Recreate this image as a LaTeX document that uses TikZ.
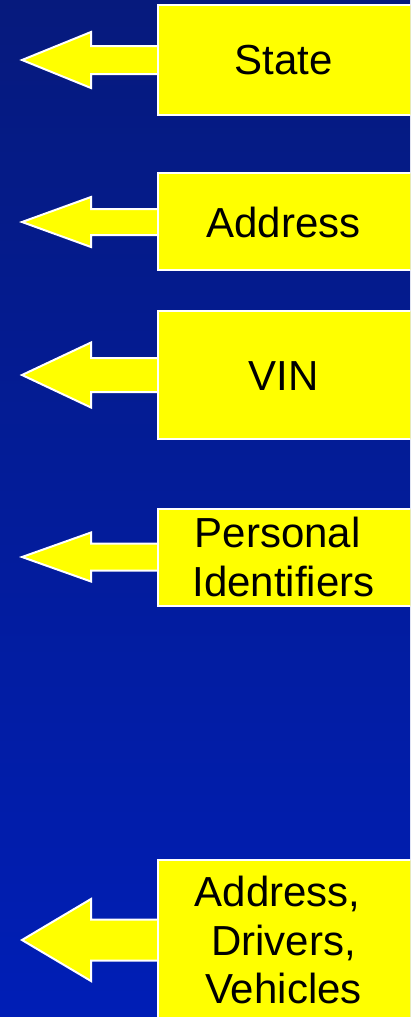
\documentclass[tikz,border=0pt]{standalone}
\usepackage{fontspec}
\setmainfont{Liberation Sans}
\usetikzlibrary{calc}
\definecolor{bgtop}{RGB}{6,26,125}
\definecolor{bgmid}{RGB}{4,32,165}
\definecolor{bgbot}{RGB}{0,30,182}
\definecolor{boxyellow}{RGB}{255,255,0}
\tikzset{
  infobox/.style={fill=boxyellow, draw=white, line width=2pt, minimum width=270pt, inner sep=0pt, anchor=west},
  infotext/.style={font=\fontsize{42}{48.5}\selectfont, align=center, inner sep=0pt, text=black},
  blockarrow/.style={fill=boxyellow, draw=white, line width=2pt, line join=miter},
}
\newcommand{\leftarrowshape}[4]{% box name, tip coordinate name, head half-height, shaft half-height
  \path[blockarrow] ($(#1.west |- #2)+(4,-#4)$) -- ($(#2)+(69,-#4)$) -- ($(#2)+(69,-#3)$) -- (#2)
     -- ($(#2)+(69,#3)$) -- ($(#2)+(69,#4)$) -- ($(#1.west |- #2)+(4,#4)$) -- cycle;
}
\begin{document}
\begin{tikzpicture}[x=1pt,y=-1pt]
\useasboundingbox (0,0) rectangle (410,1017);
\clip (0,0) rectangle (410,1017);
\shade[top color=bgtop,middle color=bgmid,bottom color=bgbot] (0,0) rectangle (410,1017);

% boxes (positions)
\path (157,60)  node[infobox, minimum height=110pt] (box1) {};
\path (157,221.5) node[infobox, minimum height=97pt] (box2) {};
\path (157,375) node[infobox, minimum height=128pt] (box3) {};
\path (157,557.5) node[infobox, minimum height=97pt] (box4) {};
\path (157,945) node[infobox, minimum height=170pt] (box5) {};

% arrow tips
\coordinate (tip1) at (22,60);
\coordinate (tip2) at (22,222);
\coordinate (tip3) at (22,375);
\coordinate (tip4) at (22,557);
\coordinate (tip5) at (22,940);

% arrows
\leftarrowshape{box1}{tip1}{28}{14}
\leftarrowshape{box2}{tip2}{25}{13}
\leftarrowshape{box3}{tip3}{32.5}{17}
\leftarrowshape{box4}{tip4}{24.5}{13.5}
\leftarrowshape{box5}{tip5}{41}{20.5}

% redraw boxes on top
\path (157,60)  node[infobox, minimum height=110pt] {};
\path (157,221.5) node[infobox, minimum height=97pt] {};
\path (157,375) node[infobox, minimum height=128pt] {};
\path (157,557.5) node[infobox, minimum height=97pt] {};
\path (157,945) node[infobox, minimum height=170pt] {};

% texts
\node[infotext] (txt1) at (283.5,60) {State};
\node[infotext] (txt2) at (283.5,222) {Address};
\node[infotext] (txt3) at (283.5,376) {VIN};
\node[infotext] (txt4) at (283.5,557) {Personal\hspace*{0.28em}\\Identifiers};
\node[infotext] (txt5) at (283.5,940) {Address,\hspace*{0.28em}\\Drivers,\\Vehicles};
\end{tikzpicture}
\end{document}
